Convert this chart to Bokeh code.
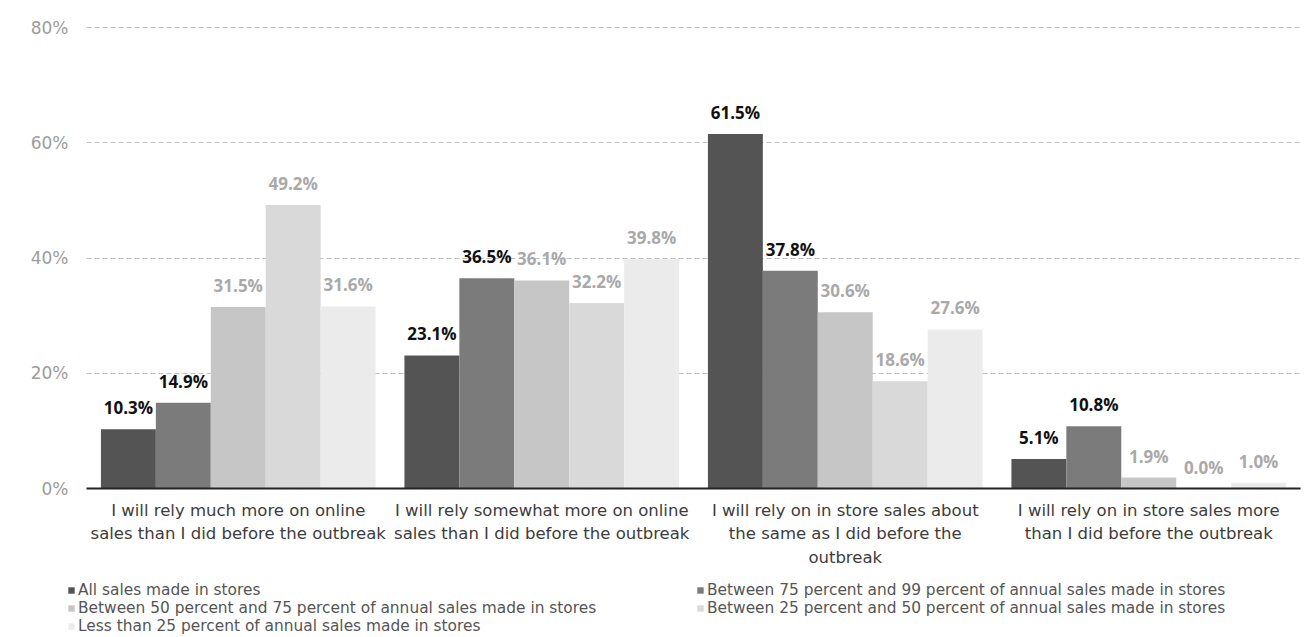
from bokeh.plotting import figure
from bokeh.layouts import column
from bokeh.models import (ColumnDataSource, FactorRange, FixedTicker, PrintfTickFormatter,
                          Legend, LegendItem, Range1d)
from bokeh.transform import dodge
from bokeh.core.properties import value
from bokeh.embed import file_html
from bokeh.resources import INLINE

categories = [
    "I will rely much more on online\nsales than I did before the outbreak",
    "I will rely somewhat more on online\nsales than I did before the outbreak",
    "I will rely on in store sales about\nthe same as I did before the\noutbreak",
    "I will rely on in store sales more\nthan I did before the outbreak",
]
series_names = [
    "All sales made in stores",
    "Between 75 percent and 99 percent of annual sales made in stores",
    "Between 50 percent and 75 percent of annual sales made in stores",
    "Between 25 percent and 50 percent of annual sales made in stores",
    "Less than 25 percent of annual sales made in stores",
]
all_stores = [10.3, 23.1, 61.5, 5.1]
pct_75_99 = [14.9, 36.5, 37.8, 10.8]
pct_50_75 = [31.5, 36.1, 30.6, 1.9]
pct_25_50 = [49.2, 32.2, 18.6, 0.0]
pct_lt_25 = [31.6, 39.8, 27.6, 1.0]
series_values = [all_stores, pct_75_99, pct_50_75, pct_25_50, pct_lt_25]
y_ticks = [0, 20, 40, 60, 80]

bar_colors = ["#545454", "#7b7b7b", "#c6c6c6", "#d9d9d9", "#ebebeb"]
label_colors = ["#111111", "#111111", "#a9a9a9", "#a9a9a9", "#a9a9a9"]
FONT = "DejaVu Sans"
LABEL_FONT = "Open Sans"

W = 1307
MAIN_H = 580
LEG_H = 637 - MAIN_H

p = figure(x_range=FactorRange(factors=categories, range_padding=0),
           y_range=Range1d(0, 80 + 7 / 5.7625),
           width=W, height=MAIN_H, output_backend="svg", toolbar_location=None,
           min_border_left=86, min_border_right=7, min_border_top=20, min_border_bottom=92)
p.outline_line_color = None

bw = 0.181
offsets = [-2 * bw, -bw, 0, bw, 2 * bw]
for i, vals in enumerate(series_values):
    src = ColumnDataSource(dict(cat=categories, v=vals, lab=[f"{x:.1f}%" for x in vals]))
    p.vbar(x=dodge("cat", offsets[i], range=p.x_range), top="v", width=bw, source=src,
           fill_color=bar_colors[i], line_color=None)
    p.text(x=dodge("cat", offsets[i], range=p.x_range), y="v", text="lab", source=src,
           text_align="center", text_baseline="bottom", y_offset=-10,
           text_font=value(LABEL_FONT), text_font_style="bold", text_font_size="17px",
           text_color=label_colors[i])

# axes
p.yaxis.ticker = FixedTicker(ticks=y_ticks)
p.yaxis.formatter = PrintfTickFormatter(format="%d%%")
p.yaxis.axis_line_color = None
p.yaxis.major_tick_line_color = None
p.yaxis.minor_tick_line_color = None
p.yaxis.major_label_text_font = FONT
p.yaxis.major_label_text_font_size = "17px"
p.yaxis.major_label_text_color = "#9c9c9c"
p.yaxis.major_label_standoff = 12

p.xaxis.axis_line_color = "#222222"
p.xaxis.axis_line_width = 2
p.xaxis.major_tick_line_color = None
p.xaxis.minor_tick_line_color = None
p.xaxis.major_label_text_font = FONT
p.xaxis.major_label_text_font_size = "16.5px"
p.xaxis.major_label_text_color = "#3c3c3c"
p.xaxis.major_label_text_line_height = 1.24
p.xaxis.major_label_standoff = 6

p.xgrid.grid_line_color = None
p.ygrid.grid_line_color = "#c0c0c0"
p.ygrid.grid_line_dash = "5 3"
p.ygrid.grid_line_width = 1

# legend panel
lf = figure(width=W, height=LEG_H, output_backend="svg", toolbar_location=None,
            x_range=(0, 1), y_range=(0, 1), x_axis_location=None, y_axis_location=None,
            min_border=0)
lf.frame_align = False
lf.outline_line_color = None
lf.xgrid.grid_line_color = None
lf.ygrid.grid_line_color = None
leg_renderers = []
for i in range(5):
    # zero-height swatch carriers: nothing is drawn in the panel itself
    leg_renderers.append(lf.vbar(x=[0.5], top=[0], bottom=[0], width=0.1,
                                 fill_color=bar_colors[i], line_color=None))

def make_legend(idx, loc):
    lg = Legend(items=[LegendItem(label=series_names[i], renderers=[leg_renderers[i]]) for i in idx],
                location=loc, orientation="vertical",
                glyph_width=8, glyph_height=8, label_standoff=3, spacing=0,
                label_height=17, padding=0, margin=0,
                label_text_font=FONT, label_text_font_size="15.4px", label_text_color="#555555",
                label_text_baseline="middle",
                border_line_color=None, background_fill_alpha=0)
    lf.add_layout(lg, "center")

make_legend([0, 2, 4], (67, LEG_H - 1 - 54))
make_legend([1, 3], (696, LEG_H - 1 - 36))

open("out.html", "w").write(file_html(column(p, lf, spacing=0), INLINE))
